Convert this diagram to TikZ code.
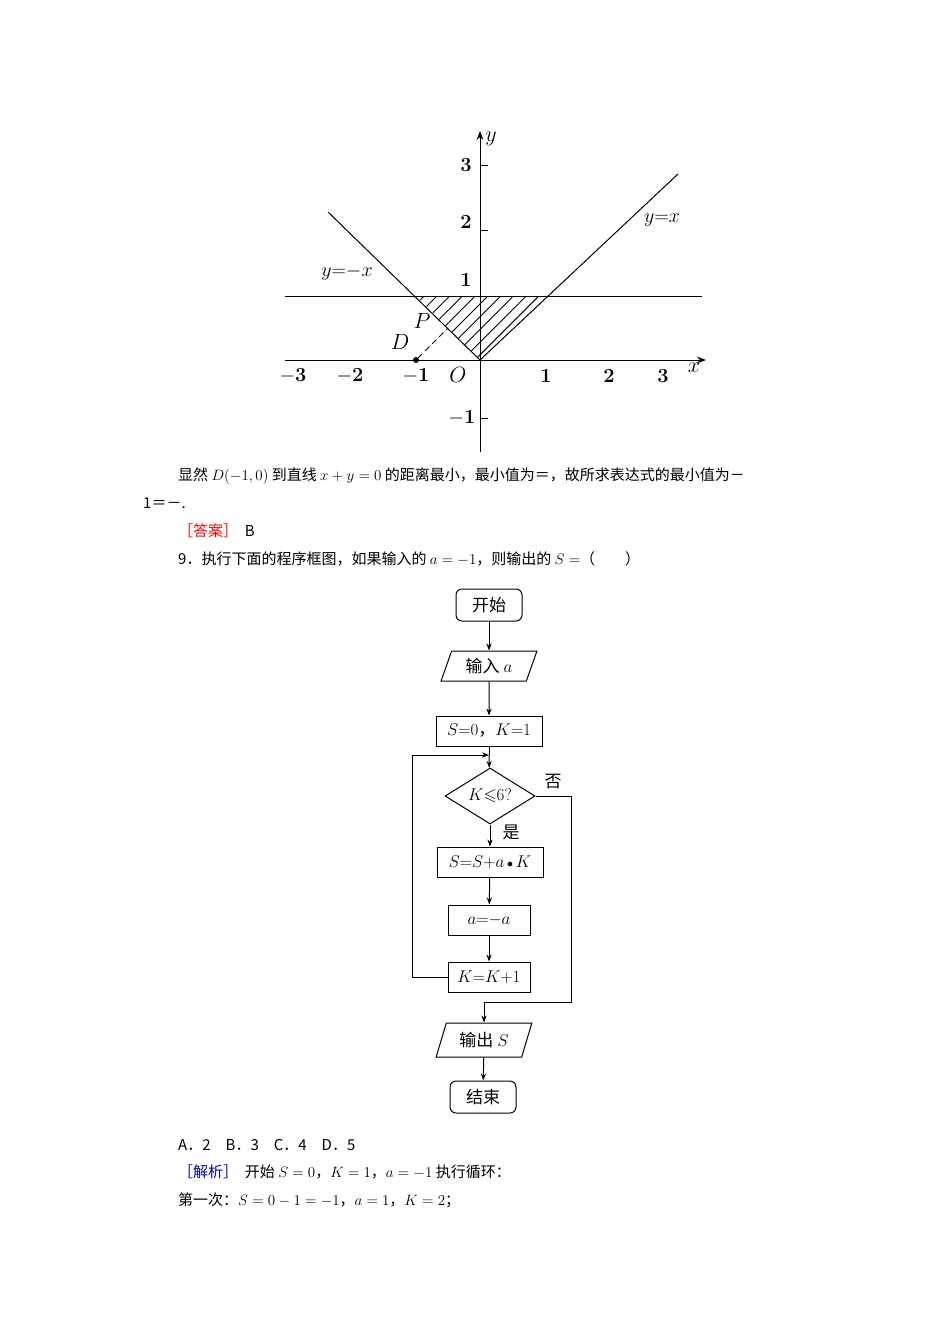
\RequirePackage{fix-cm}
\documentclass[tikz,border=0pt]{standalone}
\usepackage{amssymb}
\usepackage{fontspec}
\newfontfamily\cjk{Noto Sans CJK SC}
\usetikzlibrary{patterns.meta,shapes.geometric,arrows.meta}
\begin{document}
\begin{tikzpicture}[x=1pt,y=-1pt,
  txt/.style={anchor=west,inner sep=0pt,font=\cjk\fontsize{15}{16}\selectfont},
  lbl/.style={inner sep=0pt,font=\fontsize{20}{22}\selectfont\bfseries},
  box/.style={draw,line width=1pt,minimum height=30pt,font=\cjk\fontsize{17}{18}\selectfont,inner sep=2pt},
  io/.style={box,trapezium,trapezium left angle=70,trapezium right angle=110,trapezium stretches=true},
  arr/.style={-{Stealth[length=7pt]},line width=1pt}]
\useasboundingbox (0,0) rectangle (950,1344);
% graph
\fill[pattern={Lines[angle=45,distance=9pt,line width=0.9pt]}] (416,296) -- (544,296) -- (480,360) -- cycle;
\draw[line width=1pt] (285,296) -- (702,296);
\draw[line width=1pt,-{Stealth[length=9pt]}] (285,360) -- (706,360);
\draw[line width=1pt,-{Stealth[length=9pt]}] (480,452) -- (480,131);
\draw[line width=1pt] (328,212) -- (480,360) -- (678,174);
\draw[line width=1pt,dash pattern=on 6pt off 4pt] (418,358) -- (448,328);
\fill (416,360) circle (3pt);
\foreach \y in {165,230,418} \draw[line width=1pt] (480,\y) -- (488,\y);
\node[lbl] at (466,165) {3};
\node[lbl] at (466,222) {2};
\node[lbl] at (466,280) {1};
\node[lbl] at (462,418) {$-$1};
\node[lbl] at (293,376) {$-$3};
\node[lbl] at (350,376) {$-$2};
\node[lbl] at (416,376) {$-$1};
\node[lbl] at (546,376) {1};
\node[lbl] at (609,376) {2};
\node[lbl] at (663,376) {3};
\node[inner sep=0pt,font=\fontsize{22}{22}\selectfont] at (458,375) {$O$};
\node[inner sep=0pt,font=\fontsize{22}{22}\selectfont] at (694,368) {$x$};
\node[inner sep=0pt,font=\fontsize{22}{22}\selectfont] at (491,139) {$y$};
\node[inner sep=0pt,font=\fontsize{22}{22}\selectfont] at (422,321) {$P$};
\node[inner sep=0pt,font=\fontsize{22}{22}\selectfont] at (400,342) {$D$};
\node[inner sep=0pt,font=\fontsize{20}{22}\selectfont] at (347,273) {$y{=}{-}x$};
\node[inner sep=0pt,font=\fontsize{20}{22}\selectfont] at (662,220) {$y{=}x$};
% text
\node[txt] at (178,476) {显然 $D(-1,0)$ 到直线 $x+y=0$ 的距离最小，最小值为＝，故所求表达式的最小值为－};
\node[txt] at (143,503) {1＝－.};
\node[txt] at (178,531) {\textcolor{red}{［答案］}\ \ B};
\node[txt] at (178,559) {9．执行下面的程序框图，如果输入的 $a=-1$，则输出的 $S=$（\qquad）};
% flowchart
\node[box,rounded corners=6pt,minimum width=66pt,minimum height=32pt] (st) at (489,605) {开始};
\node[io,minimum width=96pt] (in) at (489,666) {输入 $a$};
\node[box,minimum width=106pt] (init) at (489,731) {$S{=}0$，$K{=}1$};
\node[box,diamond,aspect=1.6,minimum width=90pt,minimum height=56pt,inner sep=0pt] (dec) at (490,796) {$K{\leqslant}6?$};
\node[box,minimum width=106pt] (upd) at (490,862) {$S{=}S{+}a\,{\scriptstyle\bullet}\,K$};
\node[box,minimum width=82pt] (neg) at (489,920) {$a{=}{-}a$};
\node[box,minimum width=82pt] (inc) at (489,977) {$K{=}K{+}1$};
\node[io,minimum width=96pt,minimum height=34pt] (out) at (484,1040) {输出 $S$};
\node[box,rounded corners=6pt,minimum width=66pt,minimum height=32pt] (end) at (483,1097) {结束};
\coordinate (j) at (489,755);
\coordinate (m) at (484,1002);
\draw[arr] (st) -- (in);
\draw[arr] (in) -- (init);
\draw[line width=1pt] (init) -- (j);
\draw[arr] (j) -- (dec);
\draw[arr] (dec) -- (upd);
\draw[arr] (upd) -- (neg);
\draw[arr] (neg) -- (inc);
\draw[arr] (inc.west) -- (412,977) -- (412,755) -- (j);
\draw[line width=1pt] (dec.east) -- (571,796) -- (571,1002) -- (m);
\draw[arr] (m) -- (out);
\draw[arr] (out) -- (end);
\node[font=\cjk\fontsize{17}{18}\selectfont] at (553,782) {否};
\node[font=\cjk\fontsize{17}{18}\selectfont] at (511,832) {是};
% bottom text
\node[txt] at (178,1145) {A．2\quad B．3\quad C．4\quad D．5};
\node[txt] at (178,1172) {\textcolor{blue!70!black}{［解析］}\ \ 开始 $S=0$，$K=1$，$a=-1$ 执行循环：};
\node[txt] at (178,1200) {第一次：$S=0-1=-1$，$a=1$，$K=2$；};
\end{tikzpicture}
\end{document}
